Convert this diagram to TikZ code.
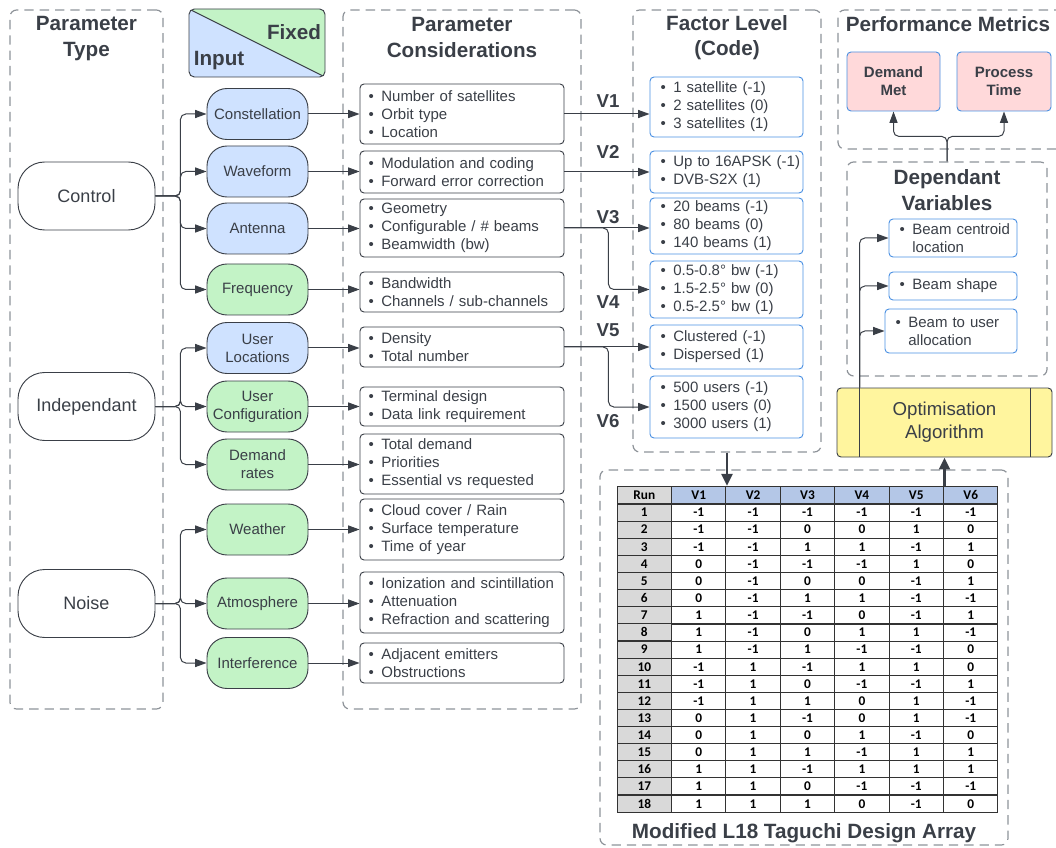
\documentclass[tikz,border=0pt]{standalone}
\usepackage{fontspec}
\setmainfont{Liberation Sans}
\newfontfamily\tabfont{Carlito}
\usetikzlibrary{arrows.meta,positioning,matrix}
\definecolor{ink}{HTML}{3A3F47}
\definecolor{grpline}{HTML}{8E9399}
\definecolor{infill}{HTML}{CFE2FF}
\definecolor{fxfill}{HTML}{C3F3C6}
\definecolor{lvlline}{HTML}{4A90E2}
\definecolor{pmfill}{HTML}{FFD9DA}
\definecolor{optfill}{HTML}{FFF59E}
\definecolor{hdrfill}{HTML}{B4C7E7}
\definecolor{runfill}{HTML}{D9D9D9}
\newcommand{\bl}[1]{\mbox{\makebox[9.5pt][l]{\textbullet}#1}}
\tikzset{
	grp/.style={draw=grpline,line width=0.9pt,dash pattern=on 7pt off 4.5pt,rounded corners=5pt,inner sep=0pt},
	ttl/.style={font=\bfseries\fontsize{15.5}{19}\selectfont,align=center},
	pill/.style={draw=ink,line width=0.7pt,rounded corners=15pt,align=center,minimum width=75.75pt,minimum height=38.25pt,inner sep=1pt,font=\fontsize{11.25}{13.5}\selectfont},
	inp/.style={pill,fill=infill},
	fix/.style={pill,fill=fxfill},
	kind/.style={pill,rounded corners=20pt,minimum width=102.75pt,minimum height=51pt,font=\fontsize{13.5}{16}\selectfont},
	lbox/.style={draw=ink,line width=0.7pt,rounded corners=3pt,inner xsep=6.5pt,inner ysep=0pt,text width=140pt,align=left,font=\fontsize{11.25}{13.5}\selectfont},
	fbox/.style={lbox,draw=lvlline,inner xsep=8pt,text width=98.75pt},
	pbox/.style={draw=lvlline,line width=0.7pt,fill=pmfill,rounded corners=3pt,align=center,minimum height=44.25pt,font=\bfseries\fontsize{11.25}{13.5}\selectfont},
	vlab/.style={font=\bfseries\fontsize{14}{16}\selectfont},
	arr/.style={draw=ink,line width=0.75pt,rounded corners=4pt,-{Triangle[length=8.5pt,width=6pt]}},
	thk/.style={draw=ink,line width=2.2pt,-{Triangle[length=9pt,width=8pt]}},
	cell/.style={draw=black!80,line width=0.8pt,minimum width=40.8pt,minimum height=12.8pt,inner sep=0pt,text=black,font=\tabfont\bfseries\fontsize{10}{10}\selectfont}
}
\begin{document}
\begin{tikzpicture}[x=0.75pt,y=-0.75pt,color=ink]
	\useasboundingbox (0,0) rectangle (1056,848);
	\node[grp,minimum width=114.75pt,minimum height=524.25pt] (gType) at (86.5,359.5) {};
	\node[grp,minimum width=178.5pt,minimum height=524.25pt] (gCons) at (462,359.5) {};
	\node[grp,minimum width=141pt,minimum height=331.5pt] (gLvl) at (727,231) {};
	\node[grp,minimum width=174pt,minimum height=104.25pt] (gPerf) at (954,79.5) {};
	\node[grp,minimum width=150pt,minimum height=160.5pt] (gDep) at (947,269) {};
	\node[grp,minimum width=306pt,minimum height=281.25pt] (gTab) at (804,657.5) {};

	\node[ttl] (tType) at (86.5,38.5) {Parameter\\Type};
	\node[ttl] (tCons) at (462,37.5) {Parameter\\Considerations};
	\node[ttl] (tLvl) at (727,37.5) {Factor Level\\(Code)};
	\node[ttl] (tPerf) at (948,24) {Performance Metrics};
	\node[ttl] (tDep) at (947,190) {Dependant\\Variables};
	\node[ttl] (tTab) at (804,833) {Modified L18 Taguchi Design Array};

	\node[draw=ink,line width=0.7pt,rounded corners=4pt,minimum width=102pt,minimum height=51pt,
		path picture={
			\fill[infill] (path picture bounding box.north west) -- (path picture bounding box.south west) -- (path picture bounding box.south east) -- cycle;
			\fill[fxfill] (path picture bounding box.north west) -- (path picture bounding box.north east) -- (path picture bounding box.south east) -- cycle;
			\draw[ink,line width=0.7pt] (path picture bounding box.north west) -- (path picture bounding box.south east);
		}] (key) at (257,43) {};
	\node[ttl] (kFix) at (294,32) {Fixed};
	\node[ttl] (kInp) at (219,61) {Input};

	\node[kind] (ctl) at (86.5,196) {Control};
	\node[kind] (ind) at (86.5,406.5) {Independant};
	\node[kind] (noi) at (86.5,603.5) {Noise};

	\node[inp] (con) at (257.5,114) {Constellation};
	\node[inp] (wav) at (257.5,171.5) {Waveform};
	\node[inp] (ant) at (257.5,228.5) {Antenna};
	\node[fix] (frq) at (257.5,289.5) {Frequency};
	\node[inp] (uloc) at (257.5,348) {User\\Locations};
	\node[fix] (ucfg) at (257.5,406.5) {User\\Configuration};
	\node[fix] (dem) at (257.5,464.5) {Demand\\rates};
	\node[fix] (wth) at (257.5,529.5) {Weather};
	\node[fix] (atm) at (257.5,603.5) {Atmosphere};
	\node[fix] (itf) at (257.5,663) {Interference};

	\node[lbox,minimum height=45pt] (cb1) at (462,114) {\bl{Number of satellites}\\\bl{Orbit type}\\\bl{Location}};
	\node[lbox,minimum height=31.5pt] (cb2) at (462,172) {\bl{Modulation and coding}\\\bl{Forward error correction}};
	\node[lbox,minimum height=43.5pt] (cb3) at (462,228) {\bl{Geometry}\\\bl{Configurable / \# beams}\\\bl{Beamwidth (bw)}};
	\node[lbox,minimum height=30pt] (cb4) at (462,292) {\bl{Bandwidth}\\\bl{Channels / sub-channels}};
	\node[lbox,minimum height=30pt] (cb5) at (462,347) {\bl{Density}\\\bl{Total number}};
	\node[lbox,minimum height=29.25pt] (cb6) at (462,406.5) {\bl{Terminal design}\\\bl{Data link requirement}};
	\node[lbox,minimum height=45pt] (cb7) at (462,464) {\bl{Total demand}\\\bl{Priorities}\\\bl{Essential vs requested}};
	\node[lbox,minimum height=45.75pt] (cb8) at (462,529.5) {\bl{Cloud cover / Rain}\\\bl{Surface temperature}\\\bl{Time of year}};
	\node[lbox,minimum height=45.75pt] (cb9) at (462,602.5) {\bl{Ionization and scintillation}\\\bl{Attenuation}\\\bl{Refraction and scattering}};
	\node[lbox,minimum height=30pt] (cb10) at (462,663) {\bl{Adjacent emitters}\\\bl{Obstructions}};

	\node[fbox,minimum height=45pt] (fl1) at (726.5,107) {\bl{1 satellite (-1)}\\\bl{2 satellites (0)}\\\bl{3 satellites (1)}};
	\node[fbox,minimum height=31.5pt] (fl2) at (726.5,172) {\bl{Up to 16APSK (-1)}\\\bl{DVB-S2X (1)}};
	\node[fbox,minimum height=42pt] (fl3) at (726.5,226) {\bl{20 beams (-1)}\\\bl{80 beams (0)}\\\bl{140 beams (1)}};
	\node[fbox,minimum height=42.75pt] (fl4) at (726.5,289.5) {\bl{0.5-0.8° bw (-1)}\\\bl{1.5-2.5° bw (0)}\\\bl{0.5-2.5° bw (1)}};
	\node[fbox,minimum height=33pt] (fl5) at (726.5,347) {\bl{Clustered (-1)}\\\bl{Dispersed (1)}};
	\node[fbox,minimum height=46.5pt] (fl6) at (726.5,407) {\bl{500 users (-1)}\\\bl{1500 users (0)}\\\bl{3000 users (1)}};

	\node[vlab] (v1) at (608,101) {V1};
	\node[vlab] (v2) at (608,152) {V2};
	\node[vlab] (v3) at (608,217) {V3};
	\node[vlab] (v4) at (608,302) {V4};
	\node[vlab] (v5) at (608,330) {V5};
	\node[vlab] (v6) at (608,421) {V6};

	\node[pbox,minimum width=69.75pt] (dm) at (893.5,81.5) {Demand\\Met};
	\node[pbox,minimum width=70.5pt] (pt) at (1004,81.5) {Process\\Time};

	\node[fbox,text width=80pt,minimum height=28.5pt] (dv1) at (953,238) {\bl{Beam centroid}\\\hspace*{9.5pt}location};
	\node[fbox,text width=80pt,minimum height=21pt] (dv2) at (953,286) {\bl{Beam shape}};
	\node[fbox,text width=83pt,minimum height=33pt] (dv3) at (951,331) {\bl{Beam to user}\\\hspace*{9.5pt}allocation};

	\node[draw=ink,line width=0.7pt,fill=optfill,rounded corners=3pt,minimum width=161.25pt,minimum height=51.75pt,align=center,font=\fontsize{14}{17.25}\selectfont] (opt) at (944.5,422.5) {Optimisation\\Algorithm};
	\draw[line width=0.7pt] ([xshift=17.25pt]opt.north west) -- ([xshift=17.25pt]opt.south west);
	\draw[line width=0.7pt] ([xshift=-16.5pt]opt.north east) -- ([xshift=-16.5pt]opt.south east);
	\coordinate (oj) at ([xshift=17.25pt]opt.north west);

	\matrix (tab) [matrix of nodes,nodes={cell},inner sep=0pt,column sep=-0.8pt,row sep=-0.8pt,
		row 1/.style={nodes={fill=hdrfill}},column 1/.style={nodes={fill=runfill}},
		row 1 column 1/.style={nodes={fill=runfill}}] at (807.5,649.5) {
		Run & V1 & V2 & V3 & V4 & V5 & V6 \\
		1 & -1 & -1 & -1 & -1 & -1 & -1 \\
		2 & -1 & -1 & 0 & 0 & 1 & 0 \\
		3 & -1 & -1 & 1 & 1 & -1 & 1 \\
		4 & 0 & -1 & -1 & -1 & 1 & 0 \\
		5 & 0 & -1 & 0 & 0 & -1 & 1 \\
		6 & 0 & -1 & 1 & 1 & -1 & -1 \\
		7 & 1 & -1 & -1 & 0 & -1 & 1 \\
		8 & 1 & -1 & 0 & 1 & 1 & -1 \\
		9 & 1 & -1 & 1 & -1 & -1 & 0 \\
		10 & -1 & 1 & -1 & 1 & 1 & 0 \\
		11 & -1 & 1 & 0 & -1 & -1 & 1 \\
		12 & -1 & 1 & 1 & 0 & 1 & -1 \\
		13 & 0 & 1 & -1 & 0 & 1 & -1 \\
		14 & 0 & 1 & 0 & 1 & -1 & 0 \\
		15 & 0 & 1 & 1 & -1 & 1 & 1 \\
		16 & 1 & 1 & -1 & 1 & 1 & 1 \\
		17 & 1 & 1 & 0 & -1 & -1 & -1 \\
		18 & 1 & 1 & 1 & 0 & -1 & 0 \\
	};

	\foreach \n in {con,wav,ant,frq} \draw[arr] (ctl.east) -- ++(25,0) |- (\n.west);
	\foreach \n in {uloc,ucfg,dem} \draw[arr] (ind.east) -- ++(25,0) |- (\n.west);
	\foreach \n in {wth,atm,itf} \draw[arr] (noi.east) -- ++(25,0) |- (\n.west);
	\foreach \a/\b in {con/cb1,wav/cb2,ant/cb3,frq/cb4,uloc/cb5,ucfg/cb6,dem/cb7,wth/cb8,atm/cb9,itf/cb10}
		\draw[arr] (\a.east) -- (\a.east -| \b.west);
	\foreach \a/\b in {cb1/fl1,cb2/fl2,cb3/fl3,cb5/fl5}
		\draw[arr] (\a.east) -- (\a.east -| \b.west);
	\draw[arr] (cb3.east) -- ++(44,0) |- (fl4.west);
	\draw[arr] (cb5.east) -- ++(44,0) |- (fl6.west);
	\foreach \d in {dv1,dv2,dv3} \draw[arr] (oj) |- (\d.west);
	\draw[arr] (gDep.north) -- ++(0,-25) -| (dm.south);
	\draw[arr] (gDep.north) -- ++(0,-25) -| (pt.south);
	\draw[thk] (gLvl.south) -- (gLvl.south |- tab.north);
	\draw[thk] (tab.north -| opt.south) -- (opt.south);
\end{tikzpicture}
\end{document}
